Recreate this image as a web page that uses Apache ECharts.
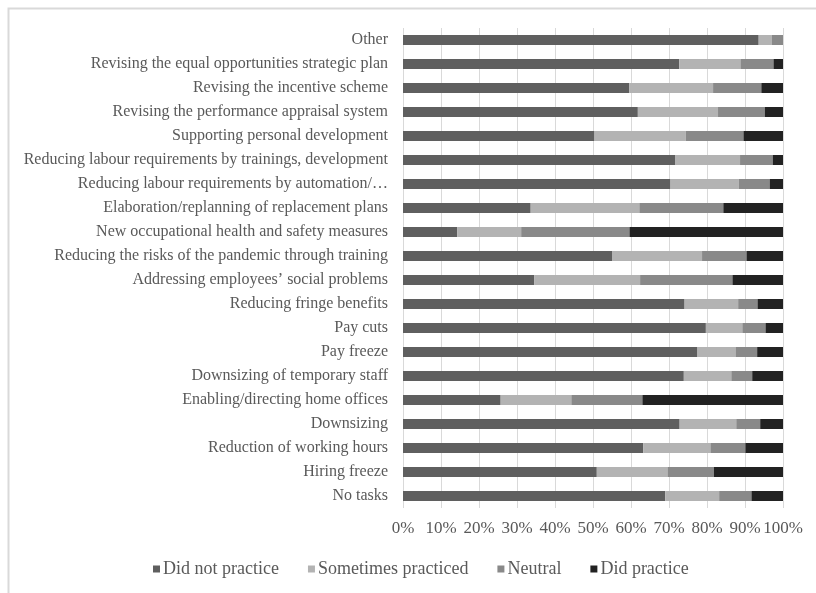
<!DOCTYPE html>
<html>
<head>
<meta charset="utf-8">
<script src="https://cdn.jsdelivr.net/npm/echarts@6/dist/echarts.min.js"></script>
<style>html,body{margin:0;padding:0;background:#fff;}#c{width:816px;height:593px;}</style>
</head>
<body>
<div id="c"></div>
<script>
var categories = [
  "Other",
  "Revising the equal opportunities strategic plan",
  "Revising the incentive scheme",
  "Revising the performance appraisal system",
  "Supporting personal development",
  "Reducing labour requirements by trainings, development",
  "Reducing labour requirements by automation/\u2026",
  "Elaboration/replanning of replacement plans",
  "New occupational health and safety measures",
  "Reducing the risks of the pandemic through training",
  "Addressing employees\u2019 social problems",
  "Reducing fringe benefits",
  "Pay cuts",
  "Pay freeze",
  "Downsizing of temporary staff",
  "Enabling/directing home offices",
  "Downsizing",
  "Reduction of working hours",
  "Hiring freeze",
  "No tasks"
];
var seriesNames = ["Did not practice", "Sometimes practiced", "Neutral", "Did practice"];
var didNotPractice     = [93.6, 72.7, 59.5, 61.8, 50.4, 71.7, 70.4, 33.6, 14.3, 55.0, 34.5, 74.1, 79.7, 77.5, 73.9, 25.7, 72.8, 63.2, 51.0, 69.0];
var sometimesPracticed = [ 3.4, 16.1, 22.1, 21.1, 24.0, 17.0, 18.0, 28.6, 16.8, 23.7, 27.9, 14.1,  9.6, 10.0, 12.5, 18.6, 14.9, 17.7, 18.6, 14.2];
var neutral            = [ 3.0,  8.7, 12.7, 12.3, 15.2,  8.6,  8.1, 22.1, 28.5, 11.7, 24.3,  5.1,  6.1,  5.7,  5.5, 18.7,  6.3,  9.2, 12.2,  8.5];
var didPractice        = [ 0.0,  2.5,  5.7,  4.8, 10.4,  2.7,  3.5, 15.7, 40.4,  9.6, 13.3,  6.7,  4.6,  6.8,  8.1, 37.0,  6.0,  9.9, 18.2,  8.3];
var xTicks = [0, 10, 20, 30, 40, 50, 60, 70, 80, 90, 100];

var colors = ["#5f5f5f", "#b3b3b3", "#898989", "#222222"];
var values = [didNotPractice, sometimesPracticed, neutral, didPractice];
var font = "'Liberation Serif', 'Times New Roman', serif";

var chart = echarts.init(document.getElementById('c'), null, {renderer: 'canvas'});
chart.setOption({
  animation: false,
  backgroundColor: '#ffffff',
  color: colors,
  graphic: [{
    type: 'rect', left: 6, top: 6,
    shape: {width: 900, height: 700},
    style: {fill: 'none', stroke: '#d9d9d9', lineWidth: 2},
    silent: true
  }],
  grid: {left: 403, right: 33, top: 28, bottom: 85, containLabel: false},
  xAxis: {
    type: 'value', min: 0, max: 100, interval: 10,
    axisLine: {show: false}, axisTick: {show: false},
    splitLine: {show: true, lineStyle: {color: '#d9d9d9', width: 1}},
    axisLabel: {
      formatter: function (v) { return xTicks.indexOf(v) >= 0 ? v + '%' : ''; },
      color: '#595959', fontFamily: font, fontSize: 17, margin: 12
    }
  },
  yAxis: {
    type: 'category', data: categories, inverse: true,
    axisLine: {show: false}, axisTick: {show: false},
    axisLabel: {color: '#595959', fontFamily: font, fontSize: 16, margin: 15, interval: 0, padding: [3, 0, 0, 0]}
  },
  legend: {
    data: seriesNames, left: 148, top: 555,
    icon: 'rect', itemWidth: 7, itemHeight: 7, itemGap: 29,
    textStyle: {color: '#595959', fontFamily: font, fontSize: 18, padding: [0, 0, 0, -2]}
  },
  series: seriesNames.map(function (n, i) {
    return {
      name: n, type: 'bar', stack: 'total', barWidth: 10,
      data: values[i], itemStyle: {color: colors[i]}
    };
  })
});
</script>
</body>
</html>
